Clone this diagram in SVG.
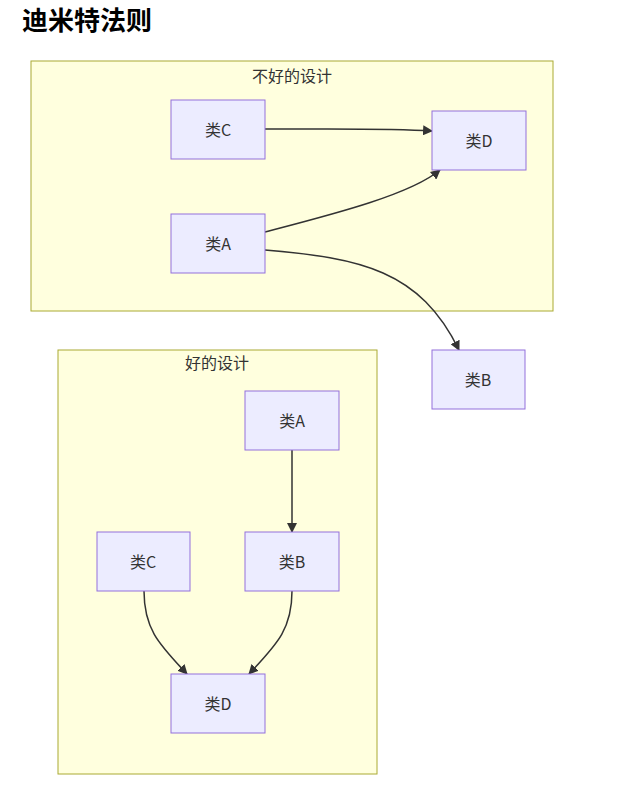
<svg xmlns="http://www.w3.org/2000/svg" width="640" height="786" viewBox="0 0 640 786">
<style>
.cl{fill:#ffffde;stroke:#aaaa33;stroke-width:1}
.nd{fill:#ececff;stroke:#9370db;stroke-width:1}
.t{font-family:"Noto Sans CJK SC","Noto Sans",sans-serif;font-size:16px;fill:#333;text-anchor:middle;dominant-baseline:central}
.e{fill:none;stroke:#333;stroke-width:1.5}
</style>
<defs>
<marker id="ar" viewBox="0 0 10 10" refX="9" refY="5" markerWidth="10" markerHeight="10" markerUnits="userSpaceOnUse" orient="auto">
<path d="M0,0L10,5L0,10z" fill="#333"/>
</marker>
</defs>
<rect width="640" height="786" fill="#fff"/>
<text x="22" y="30" style="font-family:'Noto Sans CJK SC',sans-serif;font-size:26px;font-weight:bold;fill:#000">迪米特法则</text>
<g id="cluster-bad">
<rect class="cl" x="31" y="61" width="522" height="250"/>
<text class="t" x="292" y="75">不好的设计</text>
</g>
<g id="cluster-good">
<rect class="cl" x="58" y="350" width="319" height="424"/>
<text class="t" x="217" y="362">好的设计</text>
</g>
<g id="connectors">
<path class="e" marker-end="url(#ar)" d="M265,129 C340,129 390,128 432,131"/>
<path class="e" marker-end="url(#ar)" d="M265,232 C330,215 410,195 440,170"/>
<path class="e" marker-end="url(#ar)" d="M265,250 C360,258 420,270 459,350"/>
<path class="e" marker-end="url(#ar)" d="M292,450 L292,532"/>
<path class="e" marker-end="url(#ar)" d="M144,591 C144,630 160,645 187,674"/>
<path class="e" marker-end="url(#ar)" d="M292,591 C292,630 276,645 249,674"/>
</g>
<g id="bad-C"><rect class="nd" x="171" y="100" width="94" height="59"/><text class="t" x="218" y="129">类C</text></g>
<g id="bad-D"><rect class="nd" x="432" y="111" width="94" height="59"/><text class="t" x="479" y="140">类D</text></g>
<g id="bad-A"><rect class="nd" x="171" y="214" width="94" height="59"/><text class="t" x="218" y="243">类A</text></g>
<g id="bad-B"><rect class="nd" x="432" y="350" width="93" height="59"/><text class="t" x="478" y="379">类B</text></g>
<g id="good-A"><rect class="nd" x="245" y="391" width="94" height="59"/><text class="t" x="292" y="420">类A</text></g>
<g id="good-C"><rect class="nd" x="97" y="532" width="93" height="59"/><text class="t" x="143" y="561">类C</text></g>
<g id="good-B"><rect class="nd" x="245" y="532" width="94" height="59"/><text class="t" x="292" y="561">类B</text></g>
<g id="good-D"><rect class="nd" x="171" y="674" width="94" height="59"/><text class="t" x="218" y="703">类D</text></g>
</svg>
